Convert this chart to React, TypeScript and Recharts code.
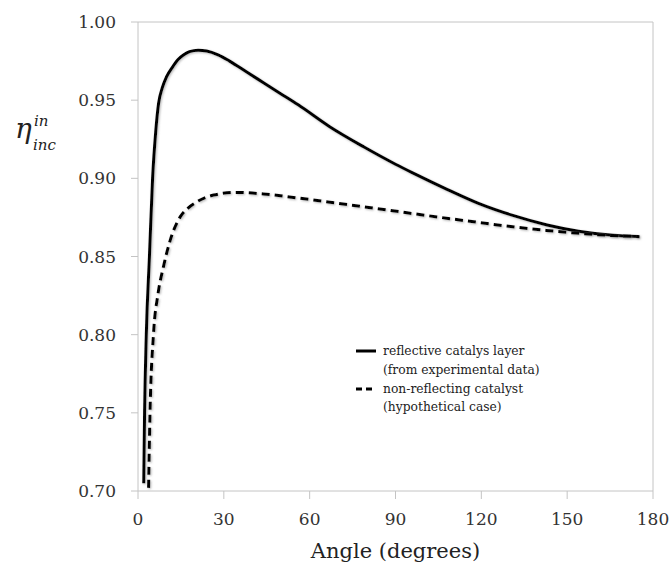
import React from "react";
import { LineChart, Line, XAxis, YAxis, ReferenceLine } from "recharts";

/* ---------------------------------------------------------------
   Incidence efficiency vs angle, two catalyst cases
   --------------------------------------------------------------- */

const reflectiveAngles = [
  2.0, 2.3, 2.9, 4.0, 5.1, 6.2, 7.2, 8.5, 10, 12, 14, 16, 18, 21, 24, 28, 32,
  38, 44, 50, 56, 67, 79, 90, 96, 108, 119, 131, 143, 154, 166, 175,
];
const reflectiveValues = [
  0.705, 0.75, 0.8, 0.85, 0.9, 0.93, 0.948, 0.958, 0.965, 0.971, 0.976, 0.979,
  0.981, 0.982, 0.9815, 0.979, 0.975, 0.968, 0.961, 0.954, 0.947, 0.933, 0.92,
  0.909, 0.9035, 0.893, 0.884, 0.8763, 0.8702, 0.8662, 0.8636, 0.8628,
];

const hypotheticalAngles = [
  3.7, 4.2, 5.4, 7.0, 8.9, 11.3, 14.8, 17.5, 20.6, 26.4, 34.5, 43.8, 55.5,
  67.1, 78.7, 90.4, 96.2, 107.8, 119.4, 131, 142.7, 154.3, 166, 175.3,
];
const hypotheticalValues = [
  0.702, 0.75, 0.8, 0.826, 0.8435, 0.8606, 0.8755, 0.881, 0.885, 0.8893, 0.891,
  0.89, 0.8875, 0.8847, 0.8818, 0.8789, 0.8774, 0.8745, 0.8717, 0.869, 0.8667,
  0.8648, 0.8634, 0.8627,
];

const xTicks = [0, 30, 60, 90, 120, 150, 180];
const yTicks = [0.7, 0.75, 0.8, 0.85, 0.9, 0.95, 1.0];

const legendLines = [
  ["reflective catalys layer", "(from experimental data)"],
  ["non-reflecting catalyst", "(hypothetical case)"],
];
const legendDashes = ["none", "6 4"];

const FONT = "DejaVu Serif";
const AXIS_GREY = "#c4c4c4";
const TEXT = "#333333";

const reflectiveData = reflectiveAngles.map((a, i) => ({
  angle: a,
  eta: reflectiveValues[i],
}));
const hypotheticalData = hypotheticalAngles.map((a, i) => ({
  angle: a,
  eta: hypotheticalValues[i],
}));

/* ---------------------------------------------------------------
   Axis titles
   --------------------------------------------------------------- */

const EtaLabel = () => (
  <text style={{ fontFamily: FONT }} fill="#222" fontStyle="italic">
    <tspan x={15} y={138} fontSize={28}>
      η
    </tspan>
    <tspan x={34} y={126} fontSize={15}>
      in
    </tspan>
    <tspan x={33} y={150} fontSize={15}>
      inc
    </tspan>
  </text>
);

const AngleLabel = (props: any) => {
  const vb = props.viewBox || {};
  return (
    <text
      x={vb.x + vb.width / 2}
      y={vb.y + 67}
      textAnchor="middle"
      style={{ fontFamily: FONT }}
      fontSize={21}
      fill="#222"
    >
      Angle (degrees)
    </text>
  );
};

/* ---------------------------------------------------------------
   Legend (two-line entries), placed over the plot
   --------------------------------------------------------------- */

const CatalystLegend = () => (
  <div
    style={{
      position: "absolute",
      left: 356,
      top: 342,
      fontFamily: FONT,
      fontSize: 12.3,
      lineHeight: "18.8px",
      color: "#222",
      whiteSpace: "nowrap",
    }}
  >
    {legendLines.map((lines, i) => (
      <div key={i}>
        <div style={{ display: "flex", alignItems: "center" }}>
          <svg width={27} height={10} style={{ flex: "none" }}>
            <line
              x1={0}
              x2={20}
              y1={5}
              y2={5}
              stroke="#000"
              strokeWidth={3}
              strokeDasharray={legendDashes[i]}
            />
          </svg>
          <span>{lines[0]}</span>
        </div>
        <div style={{ paddingLeft: 27 }}>{lines[1]}</div>
      </div>
    ))}
  </div>
);

const App: React.FC = () => (
  <div
    style={{
      position: "fixed",
      left: 0,
      top: 0,
      width: 672,
      height: 564,
      background: "#fff",
    }}
  >
    <LineChart
      width={672}
      height={564}
      margin={{ top: 22, right: 19, left: 0, bottom: 0 }}
    >
      <defs>
        <filter id="lineShadow" x="-5%" y="-5%" width="110%" height="110%">
          <feDropShadow dx={1} dy={1} stdDeviation={1} floodColor="#888" floodOpacity={0.6} />
        </filter>
      </defs>

      <XAxis
        type="number"
        dataKey="angle"
        domain={[0, 180]}
        ticks={xTicks}
        height={73}
        tickSize={8}
        tickMargin={14}
        tick={{ fill: TEXT, fontSize: 17, style: { fontFamily: FONT } }}
        axisLine={{ stroke: AXIS_GREY }}
        tickLine={{ stroke: AXIS_GREY }}
        label={<AngleLabel />}
        allowDuplicatedCategory={false}
      />
      <YAxis
        type="number"
        domain={[0.7, 1.0]}
        ticks={yTicks}
        width={138}
        tickSize={7}
        tickMargin={15}
        tickFormatter={(v: number) => v.toFixed(2)}
        tick={{ fill: TEXT, fontSize: 17, style: { fontFamily: FONT } }}
        axisLine={{ stroke: AXIS_GREY }}
        tickLine={{ stroke: AXIS_GREY }}
        label={<EtaLabel />}
      />

      {/* plot frame: top and right edges */}
      <ReferenceLine y={1.0} stroke={AXIS_GREY} />
      <ReferenceLine x={180} stroke={AXIS_GREY} />

      <Line
        data={reflectiveData}
        dataKey="eta"
        name="reflective catalys layer"
        type="monotone"
        stroke="#000"
        strokeWidth={3}
        dot={false}
        filter="url(#lineShadow)"
        isAnimationActive={false}
      />
      <Line
        data={hypotheticalData}
        dataKey="eta"
        name="non-reflecting catalyst"
        type="monotone"
        stroke="#000"
        strokeWidth={3}
        strokeDasharray="8 5"
        dot={false}
        filter="url(#lineShadow)"
        isAnimationActive={false}
      />
    </LineChart>
    <CatalystLegend />
  </div>
);

export default App;
